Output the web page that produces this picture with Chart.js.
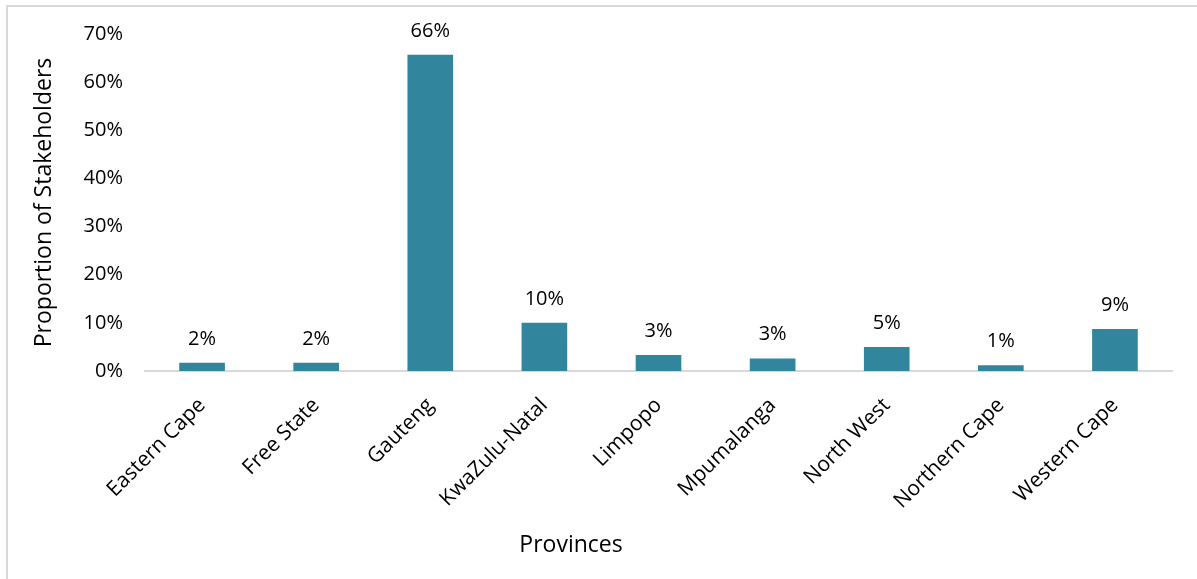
<!DOCTYPE html>
<html>
<head>
<meta charset="utf-8">
<script src="https://cdn.jsdelivr.net/npm/chart.js@4.4.0/dist/chart.umd.min.js"></script>
<style>
  html, body { margin: 0; padding: 0; background: #fff; }
  #wrap { position: relative; width: 1197px; height: 579px; }
  #frame { position: absolute; left: 6px; top: 5px; width: 1191px; height: 574px;
           border-top: 2px solid #d9d9d9; border-left: 2px solid #d9d9d9; box-sizing: border-box; }
  canvas { position: absolute; left: 0; top: 0; }
</style>
</head>
<body>
<div id="wrap">
  <div id="frame"></div>
  <canvas id="myChart" width="1197" height="579"></canvas>
</div>
<script>
// provinces and share of stakeholders (%)
var provinces = ["Eastern Cape", "Free State", "Gauteng", "KwaZulu-Natal", "Limpopo",
                 "Mpumalanga", "North West", "Northern Cape", "Western Cape"];
var shares = [1.7, 1.7, 65.7, 10.0, 3.3, 2.6, 5.0, 1.2, 8.7];
var yTicks = [0, 10, 20, 30, 40, 50, 60, 70];
var xTitle = 'Provinces';

var fontFam = "'Open Sans', sans-serif";

// % labels over bars + the x axis title (sits left of centre in the original)
var barLabels = {
  id: 'barLabels',
  afterDatasetsDraw: function(chart) {
    var ctx = chart.ctx;
    var meta = chart.getDatasetMeta(0);
    ctx.save();
    ctx.fillStyle = '#000';
    ctx.font = '20px ' + fontFam;
    ctx.textAlign = 'center';
    ctx.textBaseline = 'alphabetic';
    meta.data.forEach(function(bar, i) {
      ctx.fillText(Math.round(shares[i]) + '%', bar.x, bar.y - 18);
    });
    ctx.font = '23px ' + fontFam;
    ctx.fillText(xTitle, 571, 552);
    ctx.restore();
  }
};

var ctx = document.getElementById('myChart');
var barGraph = new Chart(ctx, {
  type: 'bar',
  data: {
    labels: provinces,
    datasets: [{
      data: shares,
      backgroundColor: '#31859c',
      borderWidth: 0,
      barPercentage: 0.4,
      categoryPercentage: 1.0
    }]
  },
  options: {
    responsive: false,
    animation: false,
    layout: { padding: { left: 0, right: 25, top: 34, bottom: 0 } },
    plugins: { legend: { display: false }, tooltip: { enabled: false } },
    scales: {
      x: {
        grid: { display: false, drawTicks: false },
        border: { display: true, color: '#d9d9d9', width: 2 },
        ticks: { color: '#000', font: { size: 21, family: fontFam }, minRotation: 45, maxRotation: 45, padding: 22 },
        afterFit: function(scale) { scale.height = 208; }
      },
      y: {
        min: 0, max: 70,
        afterBuildTicks: function(scale) { scale.ticks = yTicks.map(function(v) { return { value: v }; }); },
        grid: { display: false, drawTicks: false },
        border: { display: false },
        ticks: { color: '#000', font: { size: 20, family: fontFam }, padding: 22,
                 callback: function(v) { return v + '%'; } },
        title: { display: true, text: 'Proportion of Stakeholders', color: '#000', font: { size: 23, family: fontFam }, padding: { top: 31, bottom: 12 } },
        afterFit: function(scale) { scale.width = 145; }
      }
    }
  },
  plugins: [barLabels]
});
</script>
</body>
</html>
